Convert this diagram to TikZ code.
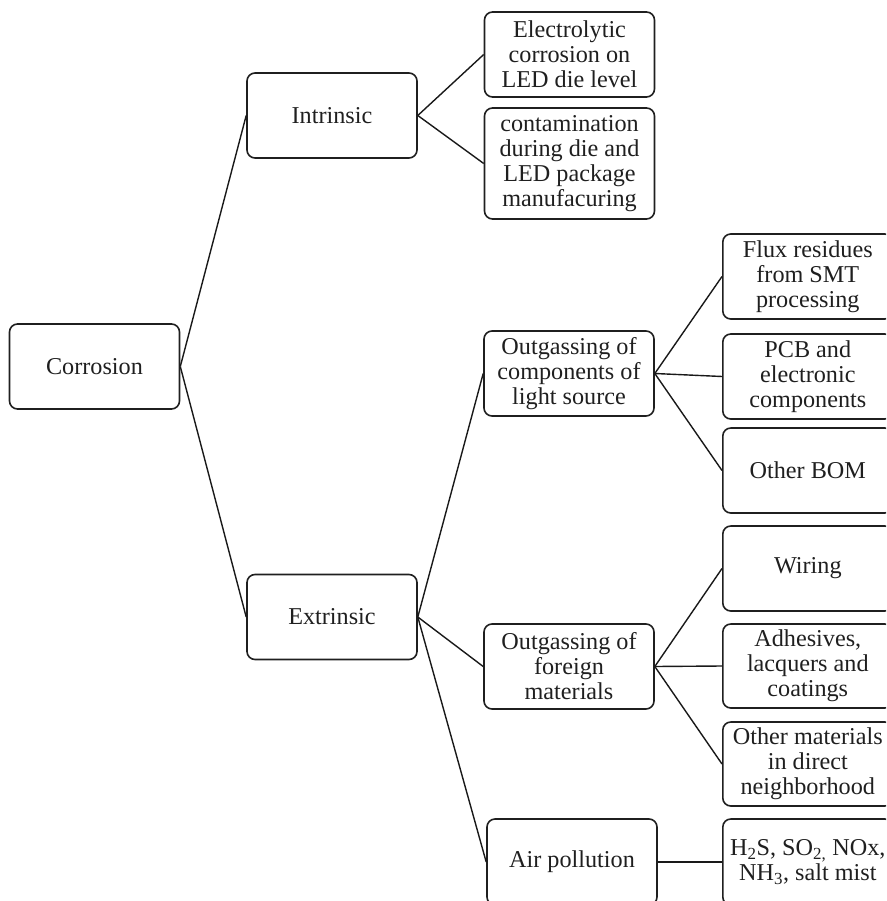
\documentclass[tikz,border=0pt]{standalone}
\usepackage{fontspec}
\setmainfont{Liberation Serif}
\begin{document}
\begin{tikzpicture}[x=1pt,y=-1pt,
  box/.style={draw=black!88, line width=1.6pt, rounded corners=8pt, minimum width=170pt, minimum height=85pt,
    inner sep=0pt, align=center, text=black!88, font=\fontsize{24.2}{25}\selectfont},
  rbox/.style={box, anchor=west},
  link/.style={draw=black!90, line width=1.4pt}]
\useasboundingbox (0,0) rectangle (886,901);
\clip (0,0) rectangle (886,901);
\node[box] (corr) at (94.5,366.5) {Corrosion};
\node[box] (intr) at (332,115.5) {Intrinsic};
\node[box] (extr) at (332,617) {Extrinsic};
\node[box] (elec) at (569.5,54.5) {Electrolytic\\corrosion on\\LED die level};
\node[box, minimum height=111pt] (cont) at (569.5,163.5) {contamination\\during die and\\LED package\\manufacuring};
\node[box] (outc) at (569,373.5) {Outgassing of\\components of\\light source};
\node[box] (outf) at (569,666.5) {Outgassing of\\foreign\\materials};
\node[box, minimum height=86pt] (air) at (572,862) {Air pollution};
\node[rbox] (flux) at (722,276.5) {Flux residues\\from SMT\\processing};
\node[rbox] (pcb) at (722,376.5) {PCB and\\electronic\\components};
\node[rbox] (bom) at (722,470.5) {Other BOM};
\node[rbox] (wir) at (722,568.5) {Wiring};
\node[rbox, minimum height=84pt] (adh) at (722,666) {Adhesives,\\lacquers and\\coatings};
\node[rbox, minimum height=84pt] (oth) at (722,764) {Other materials\\in direct\\neighborhood};
\node[rbox, minimum height=86pt] (gas) at (722,862) {H\textsubscript{2}S, SO\textsubscript{2,} NOx,\\NH\textsubscript{3}, salt mist};
\draw[link] (corr.east) -- (intr.west);
\draw[link] (corr.east) -- (extr.west);
\draw[link] (intr.east) -- (elec.west);
\draw[link] (intr.east) -- (cont.west);
\draw[link] (extr.east) -- (outc.west);
\draw[link] (extr.east) -- (outf.west);
\draw[link] (extr.east) -- (air.west);
\draw[link] (outc.east) -- (flux.west);
\draw[link] (outc.east) -- (pcb.west);
\draw[link] (outc.east) -- (bom.west);
\draw[link] (outf.east) -- (wir.west);
\draw[link] (outf.east) -- (adh.west);
\draw[link] (outf.east) -- (oth.west);
\draw[link] (air.east) -- (gas.west);
\end{tikzpicture}
\end{document}
